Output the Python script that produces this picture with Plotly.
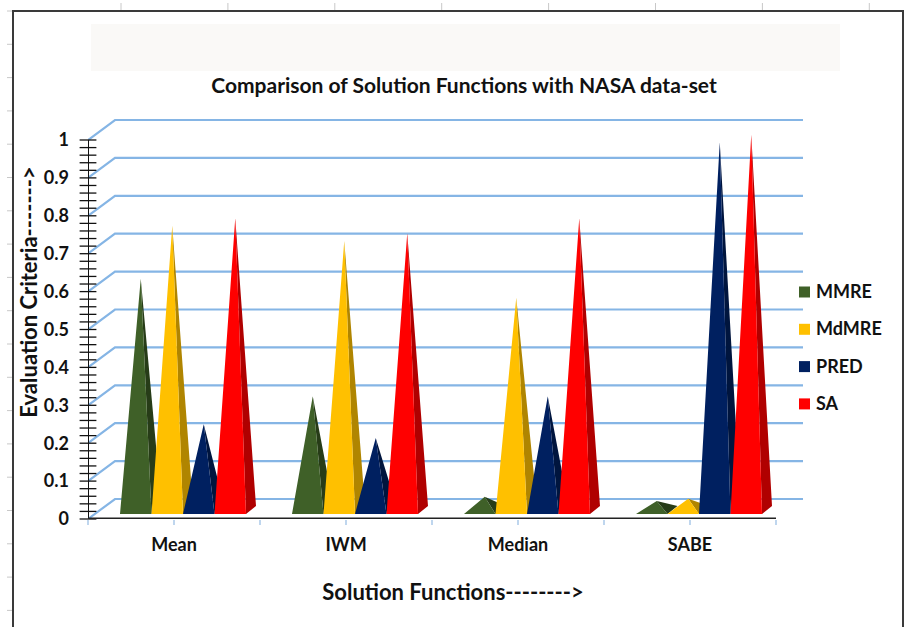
import plotly.graph_objects as go

categories = ["Mean", "IWM", "Median", "SABE"]
series_names = ["MMRE", "MdMRE", "PRED", "SA"]
mmre = [0.61, 0.30, 0.035, 0.024]
mdmre = [0.75, 0.71, 0.56, 0.03]
pred = [0.226, 0.19, 0.30, 0.97]
sa = [0.77, 0.73, 0.77, 0.99]
y_ticks = [0, 0.1, 0.2, 0.3, 0.4, 0.5, 0.6, 0.7, 0.8, 0.9, 1]
y_tick_text = ["0", "0.1", "0.2", "0.3", "0.4", "0.5", "0.6", "0.7", "0.8", "0.9", "1"]
minor_steps = list(range(51))

front_colors = ["#3F6028", "#FFC000", "#002060", "#FF0000"]
side_colors = ["#273C18", "#B08500", "#00153E", "#B00000"]

WIDTH, HEIGHT = 906, 627
LEFT, RIGHT, TOP, BOTTOM = 88, 818, 65, 519
PX_PER_CAT = 172
PX_PER_UNIT = 379
FONT = "Lato"


def cat_len(px):
    return px / PX_PER_CAT


def val_len(px):
    return px / PX_PER_UNIT


def paper_x(px):
    return (px - LEFT) / (RIGHT - LEFT)


def paper_y(px):
    return (BOTTOM - px) / (BOTTOM - TOP)


fig = go.Figure()

# Back wall gridlines, each bent across the floor depth
wall_dx, wall_dy = cat_len(27), val_len(20)
wall_right = cat_len(803 - 174)
grid_x, grid_y = [], []
for v in y_ticks:
    grid_x += [-0.5, -0.5 + wall_dx, wall_right, None]
    grid_y += [v, v + wall_dy, v + wall_dy, None]
fig.add_trace(go.Scatter(x=grid_x, y=grid_y, mode="lines", hoverinfo="skip", showlegend=False,
                         line=dict(color="#85B5E5", width=2.2)))

# Pyramids: the dark right face first, then the front face over it
bar_w = cat_len(31.5)
group_offset = cat_len(-54)
base_v = val_len(5)
depth_x, depth_y = cat_len(10), val_len(8)
all_values = [mmre, mdmre, pred, sa]
for i, (name, values) in enumerate(zip(series_names, all_values)):
    side_x, side_y, front_x, front_y = [], [], [], []
    for c, v in enumerate(values):
        left = c + group_offset + i * bar_w
        right = left + bar_w
        apex_x = left + bar_w / 2 + depth_x / 2
        apex_y = base_v + depth_y / 2 + v
        front_x += [left, right, apex_x, left, None]
        front_y += [base_v, base_v, apex_y, base_v, None]
        side_x += [right, right + depth_x, apex_x, right, None]
        side_y += [base_v, base_v + depth_y, apex_y, base_v, None]
    fig.add_trace(go.Scatter(x=side_x, y=side_y, mode="lines", fill="toself", fillcolor=side_colors[i],
                             line=dict(width=0), hoverinfo="skip", showlegend=False))
    fig.add_trace(go.Scatter(x=front_x, y=front_y, mode="lines", fill="toself", fillcolor=front_colors[i],
                             line=dict(width=0), name=name, showlegend=False))

# Value axis spine with its crossing tick marks
fig.add_trace(go.Scatter(x=[-0.5, -0.5], y=[0, 1], mode="lines", hoverinfo="skip", showlegend=False,
                         cliponaxis=False, line=dict(color="#111111", width=2)))
fig.add_trace(go.Scatter(x=[-0.5] * len(minor_steps), y=[s / 50 for s in minor_steps], mode="markers",
                         hoverinfo="skip", showlegend=False, cliponaxis=False,
                         marker=dict(symbol="line-ew", size=12, line=dict(color="#111111", width=1.3))))
# Category axis baseline
fig.add_trace(go.Scatter(x=[-0.5, 3.5], y=[0, 0], mode="lines", hoverinfo="skip", showlegend=False,
                         cliponaxis=False, line=dict(color="#222222", width=3)))

shapes = [
    dict(type="rect", xref="paper", yref="paper", x0=paper_x(91), x1=paper_x(840), y0=paper_y(71), y1=paper_y(24),
         fillcolor="#FAF9F7", line=dict(width=0), layer="below"),
    dict(type="rect", xref="paper", yref="paper", x0=paper_x(13), x1=paper_x(903), y0=paper_y(640), y1=paper_y(11),
         line=dict(color="#3A3A3A", width=2), layer="below"),
]
# Ruler ticks along the outside of the frame
for k in range(8):
    px = 121 + k * 106.9
    shapes.append(dict(type="line", xref="paper", yref="paper", x0=paper_x(px), x1=paper_x(px),
                       y0=paper_y(3), y1=paper_y(10), line=dict(color="#C8C8C8", width=1)))
for k in range(19):
    py = 11 + k * 33.3
    shapes.append(dict(type="line", xref="paper", yref="paper", x0=paper_x(7), x1=paper_x(12),
                       y0=paper_y(py), y1=paper_y(py), line=dict(color="#C8C8C8", width=1)))

# Legend keys and labels at the right of the walls
annotations = []
for i, name in enumerate(series_names):
    py = 292 + i * 37.3
    shapes.append(dict(type="rect", xref="paper", yref="paper", x0=paper_x(799), x1=paper_x(810),
                       y0=paper_y(py + 5.5), y1=paper_y(py - 5.5), fillcolor=front_colors[i], line=dict(width=0)))
    annotations.append(dict(text=name, xref="paper", yref="paper", x=paper_x(814), y=paper_y(py - 1),
                            xanchor="left", yanchor="middle", showarrow=False,
                            font=dict(family=FONT, size=18, color="#111111", weight=700)))

fig.update_layout(
    width=WIDTH, height=HEIGHT, autosize=False,
    margin=dict(l=LEFT, r=WIDTH - RIGHT, t=TOP, b=HEIGHT - BOTTOM, pad=0),
    paper_bgcolor="white", plot_bgcolor="rgba(0,0,0,0)",
    font=dict(family=FONT, color="#111111"),
    showlegend=False,
    title=dict(text="Comparison of Solution Functions with NASA data-set",
               x=464 / WIDTH, xanchor="center",
               y=1 - 86 / HEIGHT, yanchor="middle",
               font=dict(family=FONT, size=21, color="#111111", weight=700)),
    xaxis=dict(range=[-0.5, -0.5 + (RIGHT - LEFT) / PX_PER_CAT], tickmode="array", tickvals=[0, 1, 2, 3],
               ticktext=categories, showgrid=False, zeroline=False, showline=False,
               ticks="outside", ticklen=5, tickcolor="#BFD6EE", tickwidth=1.5,
               tickfont=dict(family=FONT, size=18, color="#111111", weight=700),
               ticklabelstandoff=4,
               minor=dict(tickvals=[-0.5, 0.5, 1.5, 2.5, 3.5], ticks="outside", ticklen=5,
                          tickcolor="#BFD6EE", tickwidth=1.5),
               title=dict(text="Solution Functions-------->", standoff=31,
                          font=dict(family=FONT, size=22, color="#111111", weight=700))),
    yaxis=dict(range=[0, (BOTTOM - TOP) / PX_PER_UNIT], tickmode="array", tickvals=y_ticks, ticktext=y_tick_text,
               showgrid=False, zeroline=False, showline=False, ticks="",
               ticklabelstandoff=18,
               tickfont=dict(family=FONT, size=18, color="#111111", weight=700),
               title=dict(text="Evaluation Criteria------->", standoff=0,
                          font=dict(family=FONT, size=22, color="#111111", weight=700))),
    shapes=shapes, annotations=annotations,
)

fig.write_html("out.html")
